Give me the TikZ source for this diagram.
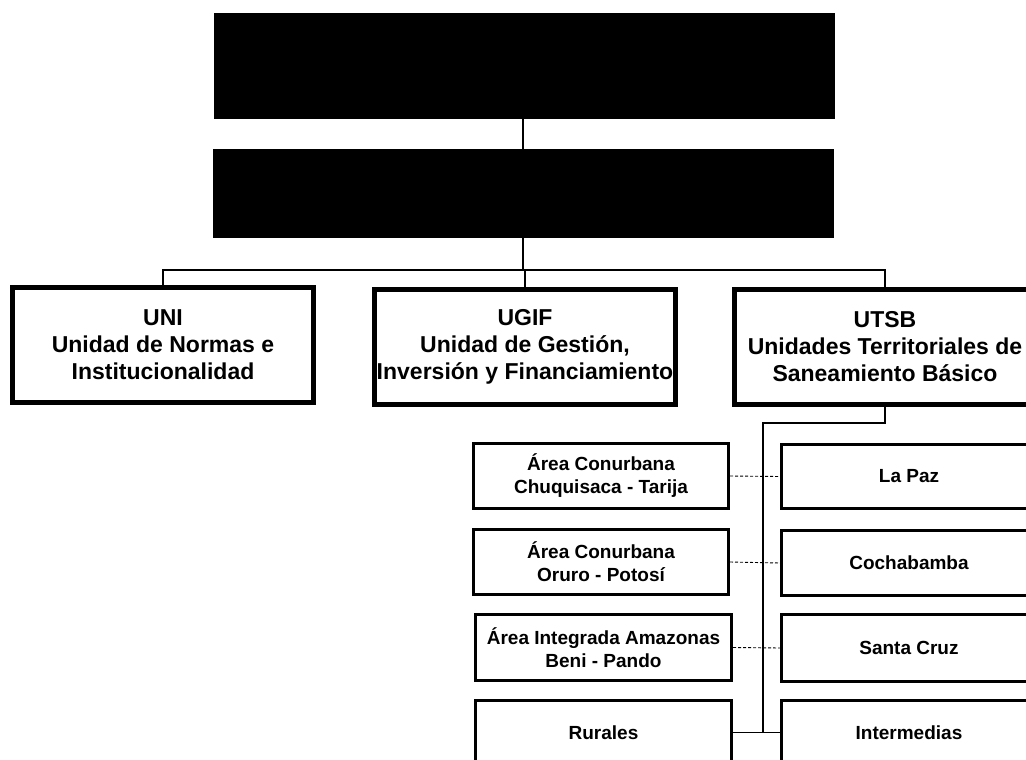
\documentclass[tikz,border=0pt]{standalone}
\usepackage{fontspec}
\setmainfont{Liberation Sans}
\begin{document}
\begin{tikzpicture}[x=1pt,y=-1pt,
  blackbox/.style={draw=black,fill=black,inner sep=0pt},
  unitbox/.style={draw=black,line width=5pt,inner sep=0pt,align=center,
    minimum width=301pt,minimum height=115pt,
    font=\fontsize{23pt}{27pt}\selectfont\bfseries},
  subbox/.style={draw=black,line width=3pt,inner sep=0pt,align=center,
    minimum width=255pt,minimum height=65pt,
    font=\fontsize{19pt}{23pt}\selectfont\bfseries},
  thickline/.style={line width=2pt},
  busline/.style={line width=1.3pt},
  dashline/.style={line width=0.9pt,dashed,dash pattern=on 3pt off 2pt}]
\useasboundingbox (0,0) rectangle (1026,760);
\clip (0,0) rectangle (1026,760);
\fill[white] (0,0) rectangle (1026,760);
% top boxes
\node[blackbox,minimum width=620pt,minimum height=105pt] (top) at (524,65.5) {};
\node[blackbox,minimum width=620pt,minimum height=88pt] (second) at (523,193) {};
% level 2
\node[unitbox] (uni) at (163,345) {UNI\\Unidad de Normas e\\Institucionalidad};
\node[unitbox] (ugif) at (525,347) {UGIF\\Unidad de Gestión,\\Inversión y Financiamiento};
\node[unitbox] (utsb) at (885,347) {UTSB\\Unidades Territoriales de\\Saneamiento Básico};
% connectors top
\draw[thickline] (top.south -| 523,0) -- (second.north -| 523,0);
\coordinate (busc) at (523,270);
\coordinate (busl) at (163,270);
\coordinate (busr) at (885,270);
\draw[thickline] (second.south -| busc) -- (busc);
\draw[busline] (uni.north) -- (busl) -- (busr) -- (utsb.north);
\draw[busline] (525,270) -- (ugif.north);
% lower boxes
\node[subbox] (chuq) at (601,476) {Área Conurbana\\Chuquisaca - Tarija};
\node[subbox] (oruro) at (601,562) {Área Conurbana\\Oruro - Potosí};
\node[subbox,minimum width=256pt,minimum height=66pt] (amaz) at (603.5,647.5) {Área Integrada Amazonas\\Beni - Pando};
\node[subbox,minimum width=256pt] (rur) at (603.5,732.5) {Rurales};
\node[subbox,minimum height=64pt] (lapaz) at (909,476.5) {La Paz};
\node[subbox,minimum height=65pt] (cocha) at (909,563) {Cochabamba};
\node[subbox,minimum height=67pt] (scruz) at (909,648) {Santa Cruz};
\node[subbox] (inter) at (909,732.5) {Intermedias};
% UTSB sub-bus
\coordinate (c1) at (885,423);
\coordinate (c2) at (763,423);
\coordinate (c3) at (763,732.5);
\draw[thickline] (utsb.south) -- (c1) -- (c2) -- (c3);
\draw[dashline] (chuq.east) -- (lapaz.west);
\draw[dashline] (oruro.east) -- (cocha.west);
\draw[dashline] (amaz.east) -- (scruz.west);
\draw[busline] (rur.east) -- (inter.west);
\end{tikzpicture}
\end{document}
